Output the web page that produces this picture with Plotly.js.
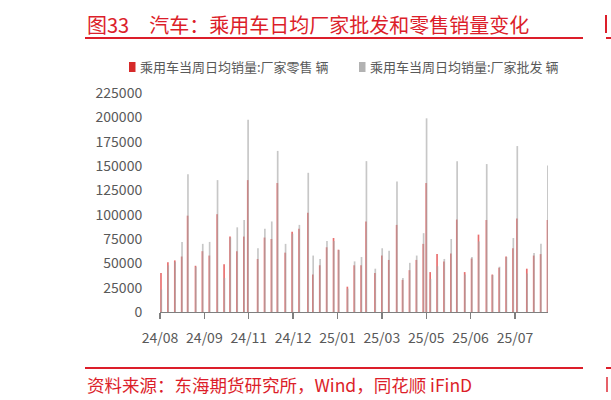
<!DOCTYPE html>
<html>
<head>
<meta charset="utf-8">
<script src="https://cdn.plot.ly/plotly-3.0.1.min.js"></script>
<style>
html,body{margin:0;padding:0;background:#fff;}
#chart{width:611px;height:400px;}
</style>
</head>
<body>
<div id="chart"></div>
<script>
// Week-end dates of CPCA weekly reporting periods
var weekDates = [
  '2024-08-04','2024-08-11','2024-08-18','2024-08-25','2024-08-31',
  '2024-09-08','2024-09-15','2024-09-22','2024-09-30',
  '2024-10-07','2024-10-13','2024-10-20','2024-10-27','2024-10-31',
  '2024-11-10','2024-11-17','2024-11-24','2024-11-30',
  '2024-12-08','2024-12-15','2024-12-22','2024-12-31',
  '2025-01-05','2025-01-12','2025-01-19','2025-01-26','2025-01-31',
  '2025-02-09','2025-02-16','2025-02-23','2025-02-28',
  '2025-03-09','2025-03-16','2025-03-23','2025-03-31',
  '2025-04-06','2025-04-13','2025-04-20','2025-04-27','2025-04-30',
  '2025-05-04','2025-05-11','2025-05-18','2025-05-25','2025-05-31',
  '2025-06-08','2025-06-15','2025-06-22','2025-06-30',
  '2025-07-06','2025-07-13','2025-07-20','2025-07-27','2025-07-31',
  '2025-08-10','2025-08-17','2025-08-24','2025-08-31'
];
// 乘用车当周日均销量:厂家零售 (辆)
var retail = [
  40000,51000,53000,57000,99000,
  47500,62500,58000,100500,
  49000,77500,62500,77500,135500,
  54500,76500,75000,132500,
  61000,82500,85500,102000,
  38500,48000,66500,76000,64000,
  26000,48000,48000,93000,
  40000,58000,53500,89500,
  33000,43000,53500,70000,132500,
  41000,59500,52000,60000,95000,
  41000,55000,79500,94500,
  38500,45500,57000,65500,96000,
  44500,58000,59500,94500
];
// 乘用车当周日均销量:厂家批发 (辆)
var wholesale = [
  23000,48000,51500,72000,141500,
  46500,70000,72000,135500,
  35000,76500,87000,94500,197500,
  65500,85500,93000,165500,
  70000,80500,89500,143000,
  58000,54500,73000,73000,63500,
  24000,52000,56500,155000,
  44500,65500,63000,134000,
  35000,50500,58000,81000,199000,
  34000,47000,54500,75000,155000,
  38500,56500,72500,152000,
  38000,46500,56500,76000,170500,
  39500,60500,70000,150500
];
var seriesNames = ['乘用车当周日均销量:厂家零售 辆', '乘用车当周日均销量:厂家批发 辆'];
var yTicks = [0,25000,50000,75000,100000,125000,150000,175000,200000,225000];

var DAY = 86400000;
var RED = '#dc1e2a';

var traces = [
  {type:'bar', name:seriesNames[0], x:weekDates, y:retail,
   width:1.7*DAY, offset:0.15*DAY, marker:{color:'rgba(224,56,56,0.72)', line:{width:0}},
   hoverinfo:'x+y'},
  {type:'bar', name:seriesNames[1], x:weekDates, y:wholesale,
   width:1.7*DAY, offset:0.5*DAY, marker:{color:'rgba(165,165,165,0.62)', line:{width:0}},
   hoverinfo:'x+y'}
];

// helpers: pixel -> paper coordinates (plot area 160..548 x, 93..312 y)
var L=160, R=548, T=93, B=312;
function px(x){return (x-L)/(R-L);}
function py(y){return (B-y)/(B-T);}

var layout = {
  width:611, height:400,
  margin:{l:L, r:611-R, t:T, b:400-B, pad:0},
  paper_bgcolor:'#fff', plot_bgcolor:'#fff',
  barmode:'overlay',
  showlegend:false,
  font:{family:'"Noto Sans CJK SC", "Noto Sans", sans-serif', color:'#595959'},
  xaxis:{
    type:'date',
    range:['2024-08-04','2025-09-01 12:00'],
    tick0:'2024-08-04', dtick:45*DAY, tickformat:'%y/%m',
    showgrid:false, zeroline:false,
    showline:true, linecolor:'#7f7f7f', linewidth:1.3,
    ticks:'outside', ticklen:6, tickcolor:'#7f7f7f', tickwidth:1.3,
    ticklabelstandoff:7,
    tickfont:{size:14, color:'#595959'}
  },
  yaxis:{
    range:[0,225000], tickvals:yTicks, ticktext:yTicks.map(String),
    showgrid:false, zeroline:false, showline:false,
    ticks:'outside', ticklen:14, tickcolor:'rgba(0,0,0,0)',
    tickfont:{size:14, color:'#595959'}
  },
  shapes:[
    {type:'line', xref:'paper', yref:'paper', x0:px(85), x1:px(583), y0:py(38), y1:py(38), line:{color:RED, width:2}},
    {type:'line', xref:'paper', yref:'paper', x0:px(85), x1:px(583), y0:py(368), y1:py(368), line:{color:RED, width:2}},
    {type:'line', xref:'paper', yref:'paper', x0:px(606), x1:px(612), y0:py(38), y1:py(38), line:{color:RED, width:2}},
    {type:'line', xref:'paper', yref:'paper', x0:px(606), x1:px(612), y0:py(368), y1:py(368), line:{color:RED, width:2}},
    {type:'rect', xref:'paper', yref:'paper', x0:px(605), x1:px(607), y0:py(33), y1:py(15), fillcolor:RED, line:{width:0}},
    {type:'rect', xref:'paper', yref:'paper', x0:px(606), x1:px(608), y0:py(392), y1:py(377), fillcolor:'rgba(220,30,42,0.7)', line:{width:0}},
    {type:'rect', xref:'paper', yref:'paper', x0:px(129), x1:px(135.5), y0:py(72), y1:py(62), fillcolor:'#d62a2a', line:{width:0}},
    {type:'rect', xref:'paper', yref:'paper', x0:px(359), x1:px(365.5), y0:py(72), y1:py(62), fillcolor:'#b2b2b2', line:{width:0}}
  ],
  annotations:[
    {xref:'paper', yref:'paper', x:px(85), y:py(24), xanchor:'left', yanchor:'middle', showarrow:false,
     text:'图33　汽车：乘用车日均厂家批发和零售销量变化', font:{size:20, color:RED}},
    {xref:'paper', yref:'paper', x:px(85), y:py(384), xanchor:'left', yanchor:'middle', showarrow:false,
     text:'资料来源：东海期货研究所，Wind，同花顺 iFinD', font:{size:17.5, color:RED}},
    {xref:'paper', yref:'paper', x:px(138), y:py(67), xanchor:'left', yanchor:'middle', showarrow:false,
     text:seriesNames[0], font:{size:13, color:'#595959'}},
    {xref:'paper', yref:'paper', x:px(368), y:py(67), xanchor:'left', yanchor:'middle', showarrow:false,
     text:seriesNames[1], font:{size:13, color:'#595959'}}
  ]
};

Plotly.newPlot('chart', traces, layout, {displayModeBar:false, staticPlot:true});
</script>
</body>
</html>
